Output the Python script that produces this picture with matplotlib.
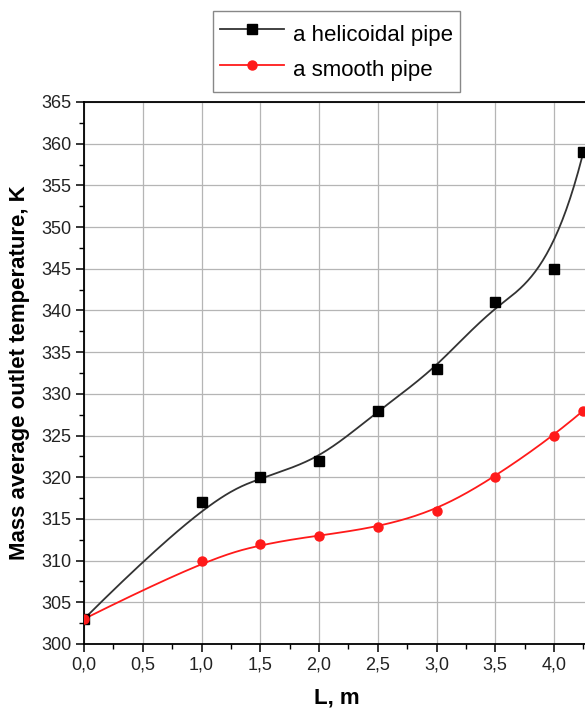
import numpy as np
import matplotlib
matplotlib.use("Agg")
import matplotlib.pyplot as plt
from matplotlib.ticker import MultipleLocator, FuncFormatter

# data (length L in m, temperature in K)
length_m = [0.0, 1.0, 1.5, 2.0, 2.5, 3.0, 3.5, 4.0, 4.25]
t_helicoidal = [303, 317, 320, 322, 328, 333, 341, 345, 359]
t_smooth = [303, 310, 312, 313, 314, 316, 320, 325, 328]
series_labels = ["a helicoidal pipe", "a smooth pipe"]

FONT = ["Liberation Sans", "DejaVu Sans"]
plt.rcParams["font.family"] = FONT


def bspline(xs, ys, degree=3, n_out=400):
    """Clamped uniform B-spline with the data points as control points (Origin style)."""
    pts = np.column_stack([xs, ys]).astype(float)
    n = len(pts)
    inner = np.linspace(0, 1, n - degree + 1)[1:-1]
    knots = np.concatenate([np.zeros(degree + 1), inner, np.ones(degree + 1)])
    u = np.linspace(0, 1, n_out)
    u[-1] = 1 - 1e-12
    # Cox-de Boor
    basis = np.zeros((n_out, len(knots) - 1))
    for i in range(len(knots) - 1):
        basis[:, i] = (u >= knots[i]) & (u < knots[i + 1])
    for p in range(1, degree + 1):
        new = np.zeros((n_out, len(knots) - 1 - p))
        for i in range(len(knots) - 1 - p):
            d1 = knots[i + p] - knots[i]
            d2 = knots[i + p + 1] - knots[i + 1]
            a = (u - knots[i]) / d1 * basis[:, i] if d1 > 0 else 0
            b = (knots[i + p + 1] - u) / d2 * basis[:, i + 1] if d2 > 0 else 0
            new[:, i] = a + b
        basis = new
    curve = basis @ pts
    return curve[:, 0], curve[:, 1]


fig = plt.figure(figsize=(5.85, 7.13), dpi=100)
# the reference is cropped on the right, so the axes run just past the figure edge
ax = fig.add_axes([84 / 585, 1 - 644 / 713, 4.3 * 117.5 / 585, 542 / 713])

hx, hy = bspline(length_m, t_helicoidal)
sx, sy = bspline(length_m, t_smooth)
ax.plot(hx, hy, color="#333333", lw=1.3, zorder=3)
ax.plot(sx, sy, color="#ff1a1a", lw=1.3, zorder=3)
ax.plot(length_m, t_helicoidal, ls="none", marker="s", ms=6.5, color="black", zorder=4)
ax.plot(length_m, t_smooth, ls="none", marker="o", ms=6.5, color="#ff1a1a", zorder=4)

# legend handles (line + marker)
h1, = ax.plot([], [], color="#333333", lw=1.3, marker="s", ms=6.5, mfc="black", mec="black")
h2, = ax.plot([], [], color="#ff1a1a", lw=1.3, marker="o", ms=6.5)
fig.legend([h1, h2], series_labels, loc="upper left",
           bbox_to_anchor=(213 / 585, 1 - 11 / 713), fontsize=16, frameon=True,
           fancybox=False, edgecolor="#888888", framealpha=1, handlelength=2.9,
           handleheight=1.85, handletextpad=0.4, borderpad=0.3, labelspacing=0.15,
           borderaxespad=0)

ax.set_xlim(0, 4.3)
ax.set_ylim(300, 365)
ax.xaxis.set_major_locator(MultipleLocator(0.5))
ax.xaxis.set_minor_locator(MultipleLocator(0.25))
ax.yaxis.set_major_locator(MultipleLocator(5))
ax.yaxis.set_minor_locator(MultipleLocator(2.5))
ax.xaxis.set_major_formatter(FuncFormatter(lambda v, _: f"{v:.1f}".replace(".", ",")))
ax.grid(True, which="major", color="#b5b5b5", lw=0.9, zorder=0)
ax.tick_params(which="major", direction="out", length=6, width=1.1, labelsize=13,
               labelcolor="#222222", pad=3)
ax.tick_params(which="minor", direction="out", length=3.5, width=1.0)
for s in ax.spines.values():
    s.set_linewidth(1.3)

ax.set_xlabel("L, m", fontsize=16, fontweight="bold", labelpad=10)
ax.set_ylabel("Mass average outlet temperature, K", fontsize=16, fontweight="bold", labelpad=8)

fig.savefig("out.png", dpi=100)
